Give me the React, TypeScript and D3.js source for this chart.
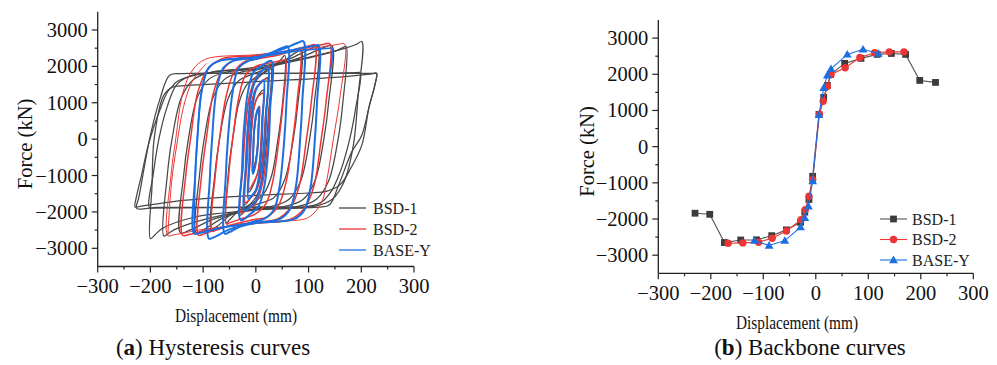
import React from 'react';
import * as d3 from 'd3';

type Pt = [number, number];

const X_TICKS = [-300, -200, -100, 0, 100, 200, 300];
const X_MINOR = [-250, -150, -50, 50, 150, 250];
const Y_TICKS = [-3000, -2000, -1000, 0, 1000, 2000, 3000];
const Y_MINOR = [-2500, -1500, -500, 500, 1500, 2500];

const SERIES = ['BSD-1', 'BSD-2', 'BASE-Y'];
const COLORS = ['#474747', '#ee3535', '#1d6fe0'];

// (b) backbone curves: displacement (mm) / force (kN)
const BSD1_D = [-230, -202, -174, -143, -113, -84, -56, -29, -21, -13, -6, 6, 15, 22, 28, 55, 86, 117, 144, 171, 198, 228];
const BSD1_F = [-1840, -1870, -2650, -2580, -2575, -2460, -2300, -2090, -1810, -1460, -820, 890, 1360, 1690, 1990, 2300, 2440, 2550, 2575, 2550, 1830, 1775];
const BSD2_D = [-167, -139, -109, -83, -56, -28, -20, -13, -6, 7, 14, 22, 29, 56, 84, 112, 140, 168];
const BSD2_F = [-2670, -2660, -2640, -2530, -2330, -2020, -1745, -1370, -915, 900, 1255, 1660, 1995, 2180, 2465, 2595, 2620, 2620];
const BASEY_D = [-117, -89, -59, -29, -21, -14, -6, 6, 15, 22, 29, 60, 90, 119];
const BASEY_F = [-2595, -2730, -2595, -2225, -1965, -1645, -950, 880, 1625, 1975, 2150, 2550, 2690, 2575];

// (a) hysteresis loops, one closed loop per amplitude
const BSD1_LOOPS: Pt[][] = [
  [[6, 886], [4.5, 300], [3, -200], [0, -550], [-3, -720], [-6, -823], [-4.5, -300], [-3, 200], [0, 550], [3, 750]],
  [[14.7, 1357], [12, 500], [9, -300], [4, -900], [-3, -1200], [-9, -1380], [-13.3, -1460], [-11, -500], [-8, 300], [-3, 900], [3, 1150], [9, 1290]],
  [[21.7, 1690], [18, 600], [14, -300], [8, -1000], [0, -1400], [-12, -1650], [-21, -1811], [-18, -600], [-14, 300], [-8, 1000], [0, 1380], [12, 1580]],
  [[28, 1994], [24, 700], [19, -300], [12, -1100], [0, -1600], [-15, -1850], [-29, -2088], [-25, -700], [-20, 300], [-13, 1100], [0, 1600], [15, 1830]],
  [[55, 2299], [50, 900], [42, 0], [30, -1000], [15, -1500], [0, -1700], [-30, -1950], [-49, -2200], [-56, -2300], [-52, -900], [-44, 0], [-32, 1000], [-17, 1500], [0, 1700], [30, 1950], [48, 2200]],
  [[86, 2437], [80, 1000], [71, 0], [55, -1100], [35, -1600], [0, -1800], [-45, -2050], [-73, -2390], [-84, -2457], [-78, -1000], [-69, 0], [-53, 1100], [-33, 1600], [0, 1820], [45, 2080], [75, 2370]],
  [[117, 2548], [111, 1000], [102, 0], [85, -1150], [63, -1650], [30, -1850], [0, -1900], [-60, -2150], [-99, -2490], [-113, -2576], [-107, -1000], [-98, 0], [-81, 1150], [-59, 1650], [-26, 1850], [0, 1900], [60, 2180], [102, 2470]],
  [[144, 2576], [138, 1000], [129, 0], [112, -1150], [90, -1650], [55, -1850], [0, -1920], [-80, -2200], [-125, -2500], [-143, -2576], [-137, -1000], [-128, 0], [-111, 1150], [-89, 1650], [-54, 1850], [0, 1930], [80, 2220], [126, 2500]],
  [[171, 2548], [165, 1000], [156, 0], [138, -1150], [115, -1650], [80, -1850], [0, -1930], [-90, -2180], [-150, -2460], [-165, -2580], [-174.5, -2660], [-168, -1000], [-159, 0], [-141, 1150], [-117, 1650], [-82, 1850], [0, 1940], [90, 2200], [150, 2420], [163, 2500]],
  [[201, 2680], [194, 1200], [185, -165], [168, -1150], [145, -1650], [110, -1850], [0, -1950], [-115, -2140], [-178, -2460], [-192, -2640], [-200, -2735], [-197, -1300], [-193, 0], [-175, 1200], [-159, 1440], [-150, 1580], [-115, 1760], [0, 1980], [100, 2250], [170, 2500], [190, 2600]],
  [[198, 1828], [190, 900], [178, 0], [160, -900], [140, -1500], [115, -1800], [0, -1860], [-190, -1878], [-202, -1880], [-195, -1000], [-184, 0], [-168, 900], [-150, 1500], [-120, 1760], [0, 1800], [150, 1815], [190, 1825]],
  [[229, 1810], [226, 1500], [215, 900], [201, 110], [182, -350], [157, -1267], [140, -1800], [120, -1870], [0, -1880], [-200, -1895], [-226, -1905], [-222, -1600], [-218, -1300], [-212, -800], [-200, 110], [-182, 1100], [-163, 1760], [-140, 1800], [0, 1810], [180, 1810], [222, 1810]],
  [[229, 1810], [226, 1500], [215, 900], [201, -165], [180, -800], [160, -1250], [135, -1430], [100, -1480], [0, -1543], [-150, -1700], [-220, -1850], [-229, -1865], [-226, -1550], [-217, -1000], [-204, -165], [-182, 800], [-162, 1400], [-135, 1470], [-100, 1500], [0, 1580], [150, 1700], [220, 1795]],
];

const BSD2_LOOPS: Pt[][] = [
  [[7, 900], [5.5, 300], [4, -200], [0, -600], [-3, -800], [-6.3, -915], [-5, -300], [-3.5, 200], [0, 600], [3, 800]],
  [[14, 1255], [11.5, 500], [9, -300], [4, -900], [-3, -1150], [-12.6, -1367], [-10.5, -500], [-8, 300], [-3, 900], [3, 1150]],
  [[21.7, 1660], [18.5, 600], [15, -300], [8, -1100], [0, -1450], [-10, -1620], [-19.6, -1745], [-16.5, -600], [-13, 300], [-6, 1100], [0, 1400], [10, 1560]],
  [[29, 1994], [25, 700], [21, -300], [13, -1200], [0, -1750], [-12, -1900], [-28, -2023], [-24, -700], [-20, 300], [-12, 1200], [0, 1700], [12, 1880]],
  [[56, 2179], [51, 900], [44, 0], [33, -1100], [20, -1750], [0, -2050], [-30, -2200], [-50, -2300], [-56, -2328], [-51, -900], [-44, 0], [-33, 1100], [-20, 1750], [0, 2000], [30, 2100], [50, 2160]],
  [[84, 2465], [78, 1000], [70, 0], [57, -1200], [42, -1850], [20, -2150], [0, -2200], [-45, -2350], [-75, -2500], [-83, -2531], [-77, -1000], [-69, 0], [-56, 1200], [-41, 1850], [-19, 2150], [0, 2200], [45, 2320], [75, 2440]],
  [[112, 2594], [105, 1000], [96, 0], [82, -1300], [65, -1900], [40, -2200], [0, -2280], [-60, -2420], [-98, -2600], [-109, -2640], [-103, -1000], [-94, 0], [-80, 1300], [-63, 1900], [-38, 2200], [0, 2280], [60, 2420], [100, 2560]],
  [[140, 2621], [133, 1000], [124, 0], [110, -1300], [92, -1900], [66, -2200], [0, -2300], [-80, -2460], [-127, -2620], [-139, -2640], [-133, -1000], [-124, 0], [-110, 1300], [-92, 1900], [-66, 2200], [0, 2300], [80, 2460], [127, 2600]],
];
const BSD2_OUTER: Pt[] = [[168, 2621], [160, 1200], [147, 0], [135, -1100], [125, -1727], [100, -2150], [60, -2250], [0, -2322], [-100, -2480], [-155, -2630], [-167, -2650], [-161, -1000], [-152, 0], [-138, 1300], [-120, 1900], [-95, 2200], [0, 2320], [100, 2480], [155, 2600]];
const BSD2_TAIL: Pt[] = [[-167, -2650], [-160, -1200], [-150, -165], [-137, 900], [-121, 1580], [-105, 1900], [-93, 2085]];

const BASEY_LOOPS: Pt[][] = [
  [[6, 880], [5, 300], [3.5, -200], [0, -650], [-3, -850], [-6, -952], [-5, -300], [-3.5, 200], [0, 650], [3, 800]],
  [[14.7, 1624], [13, 600], [11, -200], [6, -1000], [0, -1400], [-8, -1560], [-14, -1645], [-12.5, -600], [-10.5, 200], [-5, 1000], [0, 1350], [8, 1540]],
  [[22.3, 1975], [20, 700], [17, -200], [10, -1200], [0, -1700], [-10, -1850], [-21, -1967], [-19, -700], [-16, 200], [-9, 1200], [0, 1650], [10, 1850]],
  [[29.3, 2150], [27, 800], [24, -200], [16, -1300], [5, -1850], [-10, -2050], [-28.6, -2226], [-26, -800], [-23, 200], [-15, 1300], [-4, 1850], [10, 2000]],
  [[60.4, 2548], [58, 1000], [54, 0], [45, -1300], [34, -1950], [15, -2200], [0, -2250], [-30, -2400], [-51, -2560], [-59, -2596], [-57, -1000], [-53, 0], [-44, 1300], [-33, 1950], [-14, 2150], [0, 2200], [30, 2380], [52, 2520]],
  [[90.3, 2687], [88, 1000], [84, 0], [76, -1300], [64, -1950], [45, -2200], [0, -2300], [-50, -2480], [-80, -2700], [-89, -2734], [-87, -1000], [-83, 0], [-75, 1300], [-62, 1950], [-43, 2150], [0, 2250], [50, 2470], [80, 2650]],
  [[118.9, 2576], [116, 1000], [112, 0], [104, -1300], [92, -1950], [72, -2200], [0, -2300], [-60, -2420], [-107, -2580], [-117, -2596], [-115, -1000], [-111, 0], [-103, 1300], [-90, 1950], [-70, 2150], [0, 2250], [60, 2420], [108, 2560]],
];
const BASEY_TAIL: Pt[] = [[-117, -2596], [-115, -1000], [-111, 0], [-103, 1300], [-90, 1950], [-70, 2150], [0, 2250], [80, 2420], [138, 2495], [145, 2500], [143, 2000], [140, 1700]];

const FONT = "'Liberation Serif', serif";
const fmt = d3.format('d');

function Axes({ xs, ys, titleX, titleY, xTitleX, xTitleY }: any) {
  const left = xs(-300);
  const bottom = ys(-3500);
  return (
    <g fontFamily={FONT} fill="#111">
      <line x1={left} x2={left} y1={ys(3500)} y2={bottom} stroke="#222" strokeWidth={1.3} />
      <line x1={left} x2={xs(300)} y1={bottom} y2={bottom} stroke="#222" strokeWidth={1.3} />
      {Y_TICKS.map(t => (
        <g key={'y' + t}>
          <line x1={left - 6} x2={left} y1={ys(t)} y2={ys(t)} stroke="#222" strokeWidth={1.2} />
          <text x={left - 10} y={ys(t) + 7} textAnchor="end" fontSize={20.5}>{fmt(t)}</text>
        </g>
      ))}
      {Y_MINOR.map(t => (
        <line key={'ym' + t} x1={left - 3} x2={left} y1={ys(t)} y2={ys(t)} stroke="#222" strokeWidth={1.2} />
      ))}
      {X_TICKS.map(t => (
        <g key={'x' + t}>
          <line x1={xs(t)} x2={xs(t)} y1={bottom} y2={bottom + 6} stroke="#222" strokeWidth={1.2} />
          <text x={xs(t)} y={bottom + 26.5} textAnchor="middle" fontSize={20.5}>{fmt(t)}</text>
        </g>
      ))}
      {X_MINOR.map(t => (
        <line key={'xm' + t} x1={xs(t)} x2={xs(t)} y1={bottom} y2={bottom + 3} stroke="#222" strokeWidth={1.2} />
      ))}
      <text x={xTitleX} y={xTitleY} textAnchor="middle" fontSize={19} textLength={122} lengthAdjust="spacingAndGlyphs">Displacement (mm)</text>
      <text transform={`translate(${titleX},${titleY}) rotate(-90)`} textAnchor="middle" fontSize={20.5}>Force (kN)</text>
    </g>
  );
}

function Marker({ kind, x, y, color }: any) {
  if (kind === 0) return <rect x={x - 3.4} y={y - 3.4} width={6.8} height={6.8} fill={color} />;
  if (kind === 1) return <circle cx={x} cy={y} r={3.7} fill={color} />;
  return <path d={`M${x},${y - 4.4}L${x + 4.4},${y + 3.2}L${x - 4.4},${y + 3.2}Z`} fill={color} />;
}

export default function App() {
  const xa = d3.scaleLinear().domain([-300, 300]).range([97.7, 414]);
  const ya = d3.scaleLinear().domain([-3500, 3500]).range([266.5, 11.8]);
  const xb = d3.scaleLinear().domain([-300, 300]).range([658.3, 973.3]);
  const yb = d3.scaleLinear().domain([-3500, 3500]).range([273.3, 20]);

  const loopA = d3.line<Pt>().x(d => xa(d[0])).y(d => ya(d[1])).curve(d3.curveCatmullRomClosed.alpha(0.5));
  const openA = d3.line<Pt>().x(d => xa(d[0])).y(d => ya(d[1])).curve(d3.curveCatmullRom.alpha(0.5));

  const backbone = [
    { d: BSD1_D, f: BSD1_F },
    { d: BSD2_D, f: BSD2_F },
    { d: BASEY_D, f: BASEY_F },
  ];
  const lineB = d3.line<number>();

  return (
    <svg width={997} height={365} style={{ position: 'absolute', left: 0, top: 0, background: '#fff' }}>
      <rect width={997} height={365} fill="#fff" />
      {/* (a) hysteresis */}
      <g fill="none" strokeLinejoin="round">
        {BSD1_LOOPS.map((l, i) => (
          <path key={'g' + i} d={loopA(l) || ''} stroke={COLORS[0]} strokeWidth={1.25} />
        ))}
        {BSD2_LOOPS.map((l, i) => (
          <path key={'r' + i} d={loopA(l) || ''} stroke={COLORS[1]} strokeWidth={1.5} />
        ))}
        <path d={loopA(BSD2_OUTER) || ''} stroke={COLORS[1]} strokeWidth={1} />
        <path d={openA(BSD2_TAIL) || ''} stroke={COLORS[1]} strokeWidth={1} />
        {BASEY_LOOPS.map((l, i) => (
          <path key={'b' + i} d={loopA(l) || ''} stroke={COLORS[2]} strokeWidth={2} />
        ))}
        <path d={openA(BASEY_TAIL) || ''} stroke={COLORS[2]} strokeWidth={1.5} />
      </g>
      <Axes xs={xa} ys={ya} titleX={32} titleY={144} xTitleX={236} xTitleY={322} />
      <g fontFamily={FONT} fontSize={16} fill="#222">
        {SERIES.map((s, i) => (
          <g key={s}>
            <line x1={339} x2={366} y1={208 + i * 21} y2={208 + i * 21} stroke={COLORS[i]} strokeWidth={1.3} />
            <text x={373} y={208 + i * 21 + 5.5}>{s}</text>
          </g>
        ))}
      </g>

      {/* (b) backbone */}
      {backbone.map((s, si) => (
        <g key={'bb' + si}>
          <path
            d={lineB.x((_, i) => xb(s.d[i])).y(v => yb(v))(s.f) || ''}
            fill="none"
            stroke={si === 0 ? '#555' : COLORS[si]}
            strokeWidth={1.1}
          />
          {s.f.map((v, i) => (
            <Marker key={i} kind={si} x={xb(s.d[i])} y={yb(v)} color={si === 0 ? '#3c3c3c' : COLORS[si]} />
          ))}
        </g>
      ))}
      <Axes xs={xb} ys={yb} titleX={594} titleY={151.5} xTitleX={797} xTitleY={329} />
      <g fontFamily={FONT} fontSize={16} fill="#222">
        {SERIES.map((s, i) => (
          <g key={'lb' + s}>
            <line x1={880} x2={907} y1={219 + i * 20.5} y2={219 + i * 20.5} stroke={i === 0 ? '#555' : COLORS[i]} strokeWidth={1.1} />
            <Marker kind={i} x={893.5} y={219 + i * 20.5} color={i === 0 ? '#3c3c3c' : COLORS[i]} />
            <text x={912} y={219 + i * 20.5 + 5.5}>{s}</text>
          </g>
        ))}
      </g>

      {/* captions */}
      <g fontFamily={FONT} fontSize={23} fill="#111" textAnchor="middle">
        <text x={213} y={355}>(<tspan fontWeight="bold">a</tspan>) Hysteresis curves</text>
        <text x={810} y={355}>(<tspan fontWeight="bold">b</tspan>) Backbone curves</text>
      </g>
    </svg>
  );
}
